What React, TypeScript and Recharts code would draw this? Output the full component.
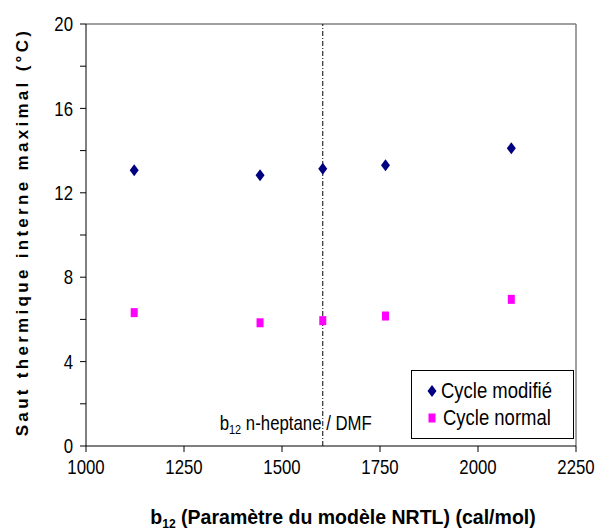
import { ScatterChart, Scatter, XAxis, YAxis, ReferenceLine, Legend, Label } from 'recharts';

const b12Values = [1123, 1444, 1604, 1764, 2085];
const cycleModifie = [13.07, 12.83, 13.14, 13.3, 14.11];
const cycleNormal = [6.32, 5.84, 5.94, 6.16, 6.95];
const xTicks = [1000, 1250, 1500, 1750, 2000, 2250];
const yTicks = [0, 2, 4, 6, 8, 10, 12, 14, 16, 18, 20];
const b12Reference = 1604;

const seriesNames = ['Cycle modifié', 'Cycle normal'];
const NAVY = '#000080';
const MAGENTA = '#FF00FF';
const FONT = "'Liberation Sans', Arial, sans-serif";
const NARROW = 0.84;

const modifieData = b12Values.map((x, i) => ({ x, y: cycleModifie[i] }));
const normalData = b12Values.map((x, i) => ({ x, y: cycleNormal[i] }));

const Diamond = (props: any) => {
  const { cx, cy } = props;
  if (cx == null || cy == null) return null;
  return <polygon points={`${cx},${cy - 6} ${cx + 4.5},${cy} ${cx},${cy + 6} ${cx - 4.5},${cy}`} fill={NAVY} />;
};

const Square = (props: any) => {
  const { cx, cy } = props;
  if (cx == null || cy == null) return null;
  return <rect x={cx - 3.5} y={cy - 4.5} width={7} height={9} fill={MAGENTA} />;
};

// narrow, tall digits like the original's stretched Arial
const XTick = (props: any) => {
  const { x, y, payload } = props;
  return (
    <text transform={`translate(${x},${y}) scale(${NARROW},1)`} textAnchor="middle" dy="0.71em" fontFamily={FONT} fontSize={20} fill="#000">
      {payload.value}
    </text>
  );
};

const YTick = (props: any) => {
  const { x, y, payload } = props;
  if (payload.value % 4 !== 0) return null;
  return (
    <text transform={`translate(${x},${y}) scale(${NARROW},1)`} textAnchor="end" dy="0.355em" fontFamily={FONT} fontSize={20} fill="#000">
      {payload.value}
    </text>
  );
};

const XTitle = (props: any) => {
  const { viewBox } = props;
  const cx = viewBox.x + viewBox.width / 2 + 12;
  const y = viewBox.y + 78;
  return (
    <text transform={`translate(${cx},${y}) scale(0.93,1)`} textAnchor="middle" fontFamily={FONT} fontWeight="bold" fontSize={21} fill="#000">
      b<tspan fontSize={13} dy={4}>12</tspan>
      <tspan dy={-4}> (Paramètre du modèle NRTL) (cal/mol)</tspan>
    </text>
  );
};

const YTitle = (props: any) => {
  const { viewBox } = props;
  const cy = viewBox.y + viewBox.height / 2 - 3;
  const x = 28;
  return (
    <text
      x={x}
      y={cy}
      transform={`rotate(-90, ${x}, ${cy})`}
      textAnchor="middle"
      fontFamily={FONT}
      fontWeight="bold"
      fontSize={17}
      letterSpacing={3.3}
      fill="#000"
    >
      Saut thermique interne maximal (°C)
    </text>
  );
};

const RefText = (props: any) => {
  const { viewBox } = props;
  const x = viewBox.x - 27;
  const y = viewBox.y + viewBox.height - 16;
  return (
    <text transform={`translate(${x},${y}) scale(${NARROW},1)`} textAnchor="middle" fontFamily={FONT} fontSize={20} fill="#000">
      b<tspan fontSize={13} dy={4}>12</tspan>
      <tspan dy={-4}> n-heptane / DMF</tspan>
    </text>
  );
};

const LegendBox = () => (
  <div
    style={{
      width: 163,
      height: 69,
      boxSizing: 'border-box',
      border: '1px solid #000',
      background: '#fff',
      fontFamily: FONT,
      fontSize: 22,
      color: '#000',
      paddingTop: 6,
      paddingLeft: 15,
      lineHeight: '27px',
    }}
  >
    <div style={{ display: 'flex', alignItems: 'center' }}>
      <svg width={13} height={14}>
        <polygon points="5,1 9.5,7 5,13 0.5,7" fill={NAVY} />
      </svg>
      <span style={{ marginLeft: 3, display: 'inline-block', transform: `scaleX(${NARROW})`, transformOrigin: 'left center', whiteSpace: 'nowrap' }}>
        {seriesNames[0]}
      </span>
    </div>
    <div style={{ display: 'flex', alignItems: 'center' }}>
      <svg width={13} height={14}>
        <rect x={1.5} y={2.5} width={7} height={9} fill={MAGENTA} />
      </svg>
      <span style={{ marginLeft: 3, display: 'inline-block', transform: `scaleX(${NARROW})`, transformOrigin: 'left center', whiteSpace: 'nowrap' }}>
        {seriesNames[1]}
      </span>
    </div>
  </div>
);

export default function App() {
  return (
    <div style={{ position: 'absolute', left: 0, top: 0, width: 598, height: 532, background: '#fff' }}>
      <ScatterChart width={598} height={532} margin={{ top: 24, right: 22, bottom: 0, left: 0 }}>
        <XAxis
          type="number"
          dataKey="x"
          domain={[1000, 2250]}
          ticks={xTicks}
          interval={0}
          height={86}
          stroke="#000"
          tickSize={6}
          tickMargin={8}
          tick={<XTick />}
          label={<Label content={<XTitle />} />}
        />
        <YAxis
          type="number"
          dataKey="y"
          domain={[0, 20]}
          ticks={yTicks}
          interval={0}
          width={86}
          stroke="#000"
          tickSize={6}
          tickMargin={7}
          tick={<YTick />}
          label={<Label content={<YTitle />} />}
        />
        <ReferenceLine y={20} stroke="#808080" strokeWidth={1.5} />
        <ReferenceLine x={2250} stroke="#808080" strokeWidth={1.5} />
        <ReferenceLine
          x={b12Reference}
          stroke="#000"
          strokeDasharray="5 2 1 2"
          label={<Label content={<RefText />} />}
        />
        <Scatter name={seriesNames[0]} data={modifieData} shape={<Diamond />} isAnimationActive={false} />
        <Scatter name={seriesNames[1]} data={normalData} shape={<Square />} isAnimationActive={false} />
        <Legend
          layout="vertical"
          align="center"
          verticalAlign="middle"
          wrapperStyle={{ left: 411, top: 370, width: 163, height: 69 }}
          content={<LegendBox />}
        />
      </ScatterChart>
    </div>
  );
}
